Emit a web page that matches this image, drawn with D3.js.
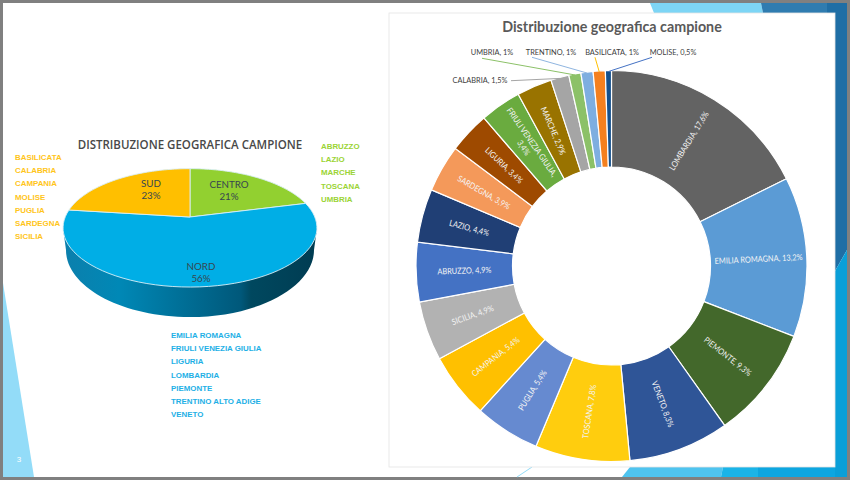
<!DOCTYPE html>
<html>
<head>
<meta charset="utf-8">
<script src="https://cdn.jsdelivr.net/npm/d3@7"></script>
<style>
    html, body { margin: 0; padding: 0; background: #fff; }
    svg { display: block; }
</style>
</head>
<body>
<div id="chart"></div>
<script>
// 3D pie values
const macroAreas = ["CENTRO", "NORD", "SUD"];
const macroShares = [21, 56, 23];
const macroColors = ["#92d030", "#00aee6", "#ffbf00"];

// Region lists next to the 3D pie
const sudRegions = ["BASILICATA", "CALABRIA", "CAMPANIA", "MOLISE", "PUGLIA", "SARDEGNA", "SICILIA"];
const centroRegions = ["ABRUZZO", "LAZIO", "MARCHE", "TOSCANA", "UMBRIA"];
const nordRegions = ["EMILIA ROMAGNA", "FRIULI VENEZIA GIULIA", "LIGURIA", "LOMBARDIA", "PIEMONTE", "TRENTINO ALTO ADIGE", "VENETO"];

// Donut values
const regions = ["LOMBARDIA", "EMILIA ROMAGNA", "PIEMONTE", "VENETO", "TOSCANA", "PUGLIA", "CAMPANIA", "SICILIA", "ABRUZZO", "LAZIO",
    "SARDEGNA", "LIGURIA", "FRIULI VENEZIA GIULIA", "MARCHE", "CALABRIA", "UMBRIA", "TRENTINO", "BASILICATA", "MOLISE"];
const regionShares = [17.6, 13.2, 9.3, 8.3, 7.8, 5.4, 5.4, 4.9, 4.9, 4.4, 3.9, 3.4, 3.4, 2.9, 1.5, 1, 1, 1, 0.5];
const regionColors = ["#636363", "#5b9bd5", "#43682b", "#2f5597", "#ffcd0e", "#668ad0", "#ffc000", "#b2b2b2", "#4472c4", "#203f75",
    "#f4995a", "#9e4a00", "#6aab3f", "#997300", "#a5a5a5", "#8cc168", "#7eaee0", "#f4801f", "#14508c"];

const width = 850;
const height = 480;

const svg = d3.select("#chart").append("svg")
    .attr("width", width)
    .attr("height", height);

const defs = svg.append("defs");

// Slide background
svg.append("rect").attr("width", width).attr("height", height).attr("fill", "#808080");
svg.append("rect").attr("x", 3).attr("y", 3).attr("width", 844).attr("height", 474).attr("fill", "#fff");

const shapes = [
    { points: "3,283 34,477 3,477", fill: "#93dcf8" },
    { points: "650,3 761,3 763,13 654,13", fill: "#7dd5f5" },
    { points: "761,3 827,3 827,13 763,13", fill: "#2f7cb0" },
    { points: "827,3 847,3 847,13 827,13", fill: "#1f6ea5" },
    { points: "835,13 847,13 847,250 835,271", fill: "#1f6ea5" },
    { points: "835,271 847,250 847,477 835,477", fill: "#0a9fd8" },
    { points: "622,477 630,467 723,467 721,477", fill: "#4fc4ef" },
    { points: "721,477 723,467 758,467 758,477", fill: "#1ab4e8" },
    { points: "758,477 758,467 835,467 835,477", fill: "#0da6e0" }
];

svg.selectAll(".bg-shape")
    .data(shapes)
    .enter().append("polygon")
    .attr("class", "bg-shape")
    .attr("points", d => d.points)
    .attr("fill", d => d.fill);

svg.append("line")
    .attr("x1", 517).attr("y1", 477).attr("x2", 532).attr("y2", 467)
    .attr("stroke", "#93dcf8").attr("stroke-width", 1);

svg.append("text")
    .attr("x", 19).attr("y", 462)
    .attr("text-anchor", "middle")
    .attr("fill", "#fff")
    .style("font", "8px 'Liberation Sans'")
    .text("3");

// White card behind the donut
svg.append("rect")
    .attr("x", 389).attr("y", 13).attr("width", 446).attr("height", 454)
    .attr("fill", "#fff")
    .attr("stroke", "#e4e4e4").attr("stroke-width", 0.8);

// ---- Left chart: 3D pie ----
const pieX = 190;
const pieY = 217;   // apex of the slices, above the middle of the ellipse because of the perspective
const persp = -0.1834;
const scaleU = 124.8;
const scaleV = 57.2;

// Project a pie angle on the tilted disc
function project(angle) {
    const u = Math.sin(angle);
    const v = -Math.cos(angle);
    const w = 1 + persp * v;
    return [pieX + scaleU * u / w, pieY + scaleV * v / w];
}

const pie3d = d3.pie().sort(null)(macroShares);
const rimLine = d3.line();

// Side wall
const sideGrad = defs.append("linearGradient")
    .attr("id", "sideGrad")
    .attr("x1", "0%").attr("x2", "100%").attr("y1", "0%").attr("y2", "0%");

[[0, "#0c7fac"], [0.22, "#0088b6"], [0.5, "#006c93"], [0.7, "#00587a"], [0.74, "#00485f"], [1, "#003c52"]].forEach(s => {
    sideGrad.append("stop").attr("offset", s[0]).attr("stop-color", s[1]);
});

const sideTop = 228;
const sideMid = 250;
const sideRx = 124;
const sideRy = 67;

const sidePath = d3.path();
sidePath.moveTo(pieX - 127, sideTop);
sidePath.lineTo(pieX - sideRx, sideMid);
sidePath.bezierCurveTo(pieX - sideRx, sideMid + sideRy * 0.55, pieX - sideRx * 0.55, sideMid + sideRy, pieX, sideMid + sideRy);
sidePath.bezierCurveTo(pieX + sideRx * 0.55, sideMid + sideRy, pieX + sideRx, sideMid + sideRy * 0.55, pieX + sideRx, sideMid);
sidePath.lineTo(pieX + 127, sideTop);
sidePath.closePath();

svg.append("path")
    .attr("d", sidePath.toString())
    .attr("fill", "url(#sideGrad)");

// Top face, one path per slice
svg.selectAll(".slice3d")
    .data(pie3d)
    .enter().append("path")
    .attr("class", "slice3d")
    .attr("d", d => {
        const steps = d3.range(0, 61).map(i => d.startAngle + (d.endAngle - d.startAngle) * i / 60);
        return rimLine([[pieX, pieY]].concat(steps.map(project))) + "Z";
    })
    .attr("fill", (d, i) => macroColors[i])
    .attr("stroke", "#d9eef6")
    .attr("stroke-width", 0.9)
    .attr("stroke-linejoin", "round");

// Slice labels
const macroLabelPos = [[229, 184], [201, 266], [151, 183]];

macroAreas.forEach((name, i) => {
    const label = svg.append("text")
        .attr("transform", `translate(${macroLabelPos[i][0]},${macroLabelPos[i][1]}) scale(0.94,1)`)
        .attr("text-anchor", "middle")
        .attr("fill", "#37474f")
        .style("font", "10.4px Lato");
    label.append("tspan").attr("x", 0).attr("y", 3.5).text(name);
    label.append("tspan").attr("x", 0).attr("y", 16).text(macroShares[i] + "%");
});

svg.append("text")
    .attr("transform", "translate(190,149) scale(0.886,1)")
    .attr("text-anchor", "middle")
    .attr("fill", "#484848")
    .style("font", "600 13px 'Open Sans'")
    .text("DISTRIBUZIONE GEOGRAFICA CAMPIONE");

// Region lists
function drawList(names, x, y, color) {
    svg.selectAll(null)
        .data(names)
        .enter().append("text")
        .attr("x", x)
        .attr("y", (d, i) => y + i * 13.2)
        .attr("fill", color)
        .style("font", "bold 7.9px 'Liberation Sans'")
        .text(d => d);
}

drawList(sudRegions, 15, 160, "#ffc51a");
drawList(centroRegions, 321, 149, "#9bd435");
drawList(nordRegions, 171, 338, "#1eb0e6");

// ---- Right chart: donut ----
const donutX = 611.5;
const donutY = 266;
const outerRadius = 195.5;
const innerRadius = 99;

const donut = d3.pie().sort(null)(regionShares);
const arc = d3.arc().innerRadius(innerRadius).outerRadius(outerRadius);

const donutG = svg.append("g")
    .attr("transform", `translate(${donutX},${donutY})`);

donutG.selectAll(".slice")
    .data(donut)
    .enter().append("path")
    .attr("class", "slice")
    .attr("d", arc)
    .attr("fill", (d, i) => regionColors[i])
    .attr("stroke", "#fff")
    .attr("stroke-width", 1.2);

const formatShare = v => String(v).replace(".", ",") + "%";

// Labels outside the ring, with their leader lines
const outerLabels = new Map([
    ["CALABRIA", { x: 480, y: 80, lineX: 511, lineY: 80.7, color: "#a5a5a5" }],
    ["UMBRIA", { x: 492, y: 52, lineX: 482, lineY: 58.3, color: "#8cc168" }],
    ["TRENTINO", { x: 551, y: 52, lineX: 532, lineY: 57.3, color: "#8fb5e0" }],
    ["BASILICATA", { x: 612, y: 52, lineX: 595, lineY: 57.3, color: "#ffc000" }],
    ["MOLISE", { x: 673, y: 52, lineX: 652, lineY: 57.3, color: "#4472c4" }]
]);

donut.forEach((d, i) => {
    const name = regions[i];
    const mid = (d.startAngle + d.endAngle) / 2;
    const outer = outerLabels.get(name);

    if (outer) {
        const r = outerRadius - 1;
        svg.append("line")
            .attr("x1", outer.lineX).attr("y1", outer.lineY)
            .attr("x2", donutX + r * Math.sin(mid))
            .attr("y2", donutY - r * Math.cos(mid))
            .attr("stroke", outer.color)
            .attr("stroke-width", 1);
        svg.append("text")
            .attr("transform", `translate(${outer.x},${outer.y + 3}) scale(0.88,1)`)
            .attr("text-anchor", "middle")
            .attr("fill", "#404040")
            .style("font", "8.4px Lato")
            .text(`${name}, ${formatShare(regionShares[i])}`);
        return;
    }

    const deg = mid * 180 / Math.PI;
    const rotate = deg < 180 ? deg - 90 : deg + 90;
    const r = (innerRadius + outerRadius) / 2;
    const label = donutG.append("text")
        .attr("transform", `translate(${r * Math.sin(mid)},${-r * Math.cos(mid)}) rotate(${rotate}) scale(0.88,1)`)
        .attr("text-anchor", "middle")
        .attr("fill", "#f4f4f4")
        .style("font", "8.4px Lato");

    // The long name wraps on two lines
    if (name === "FRIULI VENEZIA GIULIA") {
        label.append("tspan").attr("x", 0).attr("y", -2).text(name + ",");
        label.append("tspan").attr("x", 0).attr("y", 8).text(formatShare(regionShares[i]));
    } else {
        label.attr("dy", "0.35em").text(`${name}, ${formatShare(regionShares[i])}`);
    }
});

svg.append("text")
    .attr("transform", "translate(612,32) scale(0.928,1)")
    .attr("text-anchor", "middle")
    .attr("fill", "#595959")
    .style("font", "bold 15.4px Lato")
    .text("Distribuzione geografica campione");
</script>
</body>
</html>
